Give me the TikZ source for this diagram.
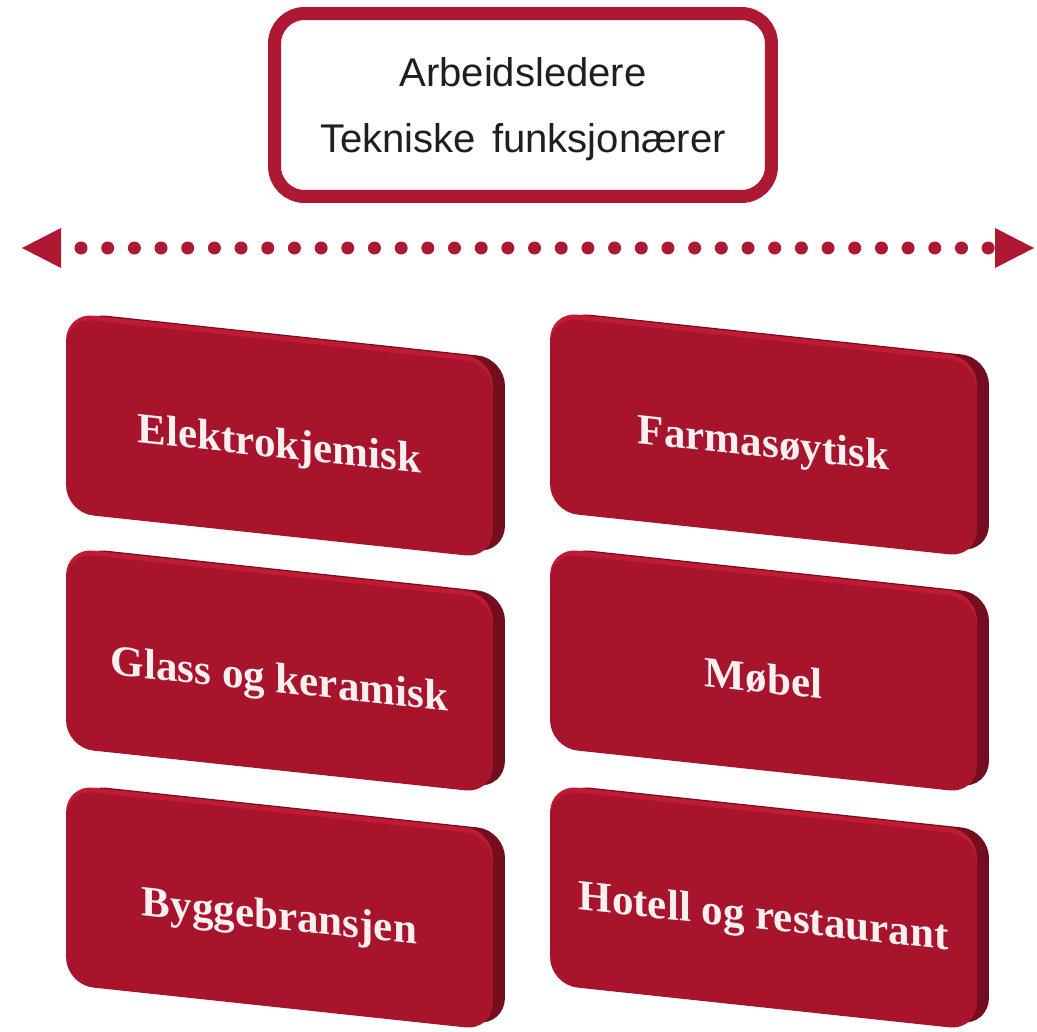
\documentclass[tikz,border=0pt]{standalone}
\usepackage{fontspec}
\setmainfont{Liberation Sans}
\newfontfamily\tilefont{Liberation Serif}
\usetikzlibrary{shadows}
\definecolor{framered}{RGB}{174,24,50}
\definecolor{tilered}{RGB}{168,20,44}
\definecolor{tiledark}{RGB}{116,14,30}
\definecolor{tilelight}{RGB}{192,26,52}
\definecolor{tiletext}{RGB}{250,240,242}
\begin{document}
\begin{tikzpicture}[x=0.02cm, y=-0.02cm,
   titlebox/.style={draw=framered, line width=0.26cm, rounded corners=0.6cm,
      fill=white, inner sep=0pt, minimum width=9.94cm, minimum height=3.66cm,
      align=center, text height=54.6pt, text depth=0pt,
      text=black!88, font=\fontsize{22.8}{38}\selectfont},
   tile/.style={fill=tilered, rounded corners=0.55cm, inner sep=0pt,
      minimum width=8.54cm, minimum height=3.9cm, yslant=-0.107,
      text height=0.9cm, text depth=0.11cm,
      text=tiletext, font=\tilefont\bfseries\fontsize{24.5}{29}\selectfont,
      copy shadow={shadow xshift=0.24cm, shadow yshift=0.1cm, fill=tiledark, draw=none},
      copy shadow={shadow xshift=0cm, shadow yshift=0.1cm, fill=tilelight, draw=none}},
   dot/.style={fill=framered}
]
   \useasboundingbox (0,0) rectangle (1037,1031);
   % title
   \node[titlebox] (staff) at (523,105) {Arbeidsledere\\Tekniske\hspace{0.13em} funksjonærer};
   % double arrow made of dots
   \coordinate (west) at (22,248);
   \coordinate (east) at (1034,248);
   \fill[dot] (west) -- ++(39,-20) -- ++(0,40) -- cycle;
   \fill[dot] (east) -- ++(-39,-20) -- ++(0,40) -- cycle;
   \foreach \i in {0, ..., 34} {
      \fill[dot] ({81+\i*26.68}, 248) circle (6.5);
   }
   % branches
   \node[tile] (elektro) at (279.5,438) {Elektrokjemisk};
   \node[tile] (glass)   at (279.5,673) {Glass og keramisk};
   \node[tile] (bygg)    at (279.5,910) {Byggebransjen};
   \node[tile] (farma)   at (763.5,437) {Farmasøytisk};
   \node[tile] (mobel)   at (763.5,673) {Møbel};
   \node[tile] (hotell)  at (763.5,910) {Hotell og restaurant};
\end{tikzpicture}
\end{document}
